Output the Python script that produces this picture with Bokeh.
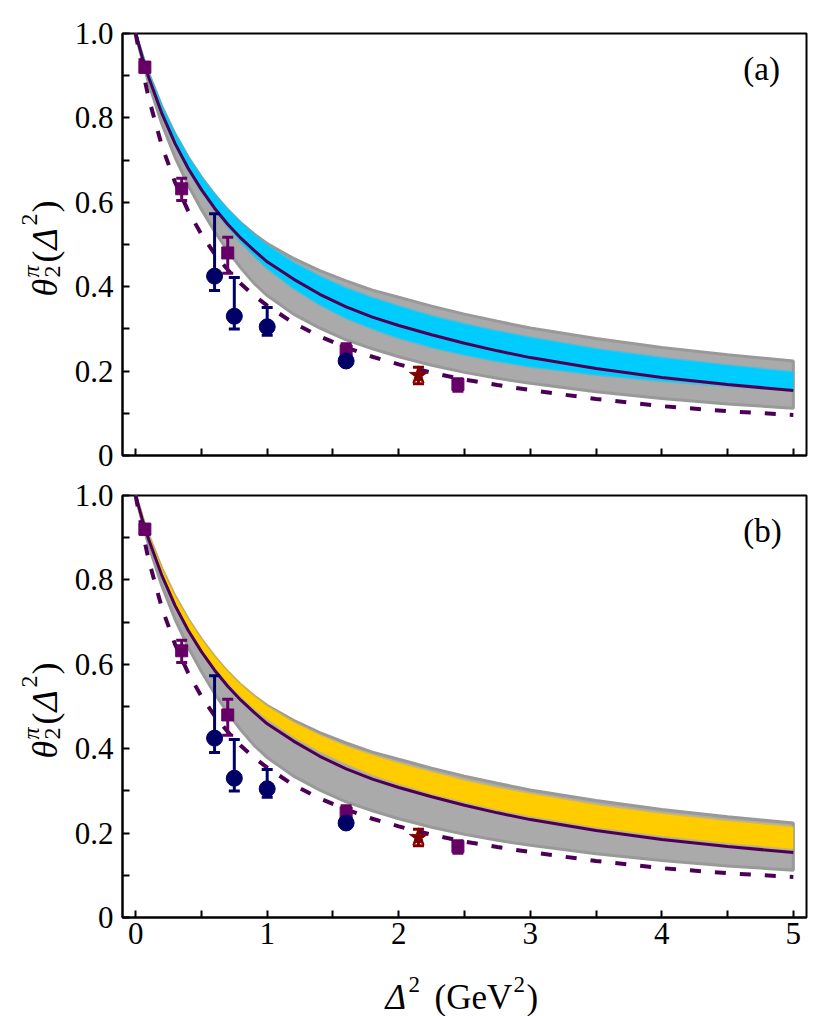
import math
from bokeh.plotting import figure
from bokeh.layouts import column, row
from bokeh.models import FixedTicker, Range1d, Label
from bokeh.core.properties import value
from bokeh.embed import file_html
from bokeh.resources import INLINE

# ---------------- data ----------------
curve_x = [0, 0.05, 0.1, 0.2, 0.3, 0.4, 0.5, 0.6, 0.7, 0.8, 0.9, 1.0, 1.2, 1.4, 1.6, 1.8, 2.0,
           2.25, 2.5, 2.75, 3.0, 3.5, 4.0, 4.5, 5.0]
solid_y = [1.0, 0.944, 0.895, 0.810, 0.739, 0.680, 0.630, 0.586, 0.548, 0.515, 0.486, 0.459, 0.418,
           0.382, 0.352, 0.328, 0.308, 0.286, 0.266, 0.248, 0.232, 0.206, 0.185, 0.168, 0.154]
dashed_y = [1.0, 0.917, 0.846, 0.733, 0.647, 0.579, 0.524, 0.478, 0.440, 0.407, 0.379, 0.355, 0.314,
            0.282, 0.256, 0.234, 0.216, 0.196, 0.180, 0.167, 0.155, 0.134, 0.117, 0.105, 0.096]

gray_lo = [1.0, 0.937, 0.881, 0.785, 0.706, 0.640, 0.583, 0.531, 0.485, 0.444, 0.408, 0.379, 0.335,
           0.302, 0.274, 0.253, 0.234, 0.214, 0.197, 0.183, 0.171, 0.151, 0.135, 0.122, 0.112]
gray_hi = [1.0, 0.949, 0.904, 0.826, 0.761, 0.706, 0.659, 0.618, 0.582, 0.551, 0.525, 0.5025, 0.467,
           0.438, 0.414, 0.392, 0.375, 0.354, 0.335, 0.318, 0.302, 0.277, 0.256, 0.239, 0.224]

cyan_lo = [1.0, 0.944, 0.894, 0.808, 0.737, 0.677, 0.627, 0.583, 0.543, 0.506, 0.474, 0.444, 0.397,
           0.358, 0.326, 0.301, 0.279, 0.257, 0.239, 0.224, 0.211, 0.192, 0.177, 0.165, 0.155]
cyan_hi = [1.0, 0.949, 0.904, 0.826, 0.761, 0.706, 0.659, 0.618, 0.582, 0.551, 0.522, 0.4975, 0.457,
           0.424, 0.396, 0.373, 0.353, 0.330, 0.311, 0.294, 0.279, 0.252, 0.231, 0.213, 0.197]

gold_lo = [1.0, 0.946, 0.897, 0.813, 0.744, 0.685, 0.635, 0.593, 0.556, 0.524, 0.496, 0.471, 0.429,
           0.394, 0.365, 0.339, 0.317, 0.294, 0.274, 0.256, 0.2405, 0.2145, 0.194, 0.177, 0.163]
gold_hi = [1.0, 0.949, 0.904, 0.826, 0.761, 0.706, 0.659, 0.618, 0.582, 0.551, 0.524, 0.500, 0.462,
           0.431, 0.405, 0.384, 0.365, 0.344, 0.324, 0.307, 0.2925, 0.266, 0.245, 0.228, 0.214]

sq_x = [0.07, 0.35, 0.70, 1.60, 2.45]
sq_y = [0.92, 0.632, 0.48, 0.248, 0.168]
sq_lo = [0.908, 0.604, 0.432, 0.235, 0.152]
sq_hi = [0.932, 0.657, 0.517, 0.265, 0.182]

circ_x = [0.60, 0.75, 1.00, 1.60]
circ_y = [0.425, 0.33, 0.305, 0.224]
circ_lo = [0.391, 0.30, 0.285, 0.215]
circ_hi = [0.573, 0.422, 0.351, 0.235]

star_x = [2.15]
star_y = [0.19]
star_lo = [0.17]
star_hi = [0.209]

x_major = [0, 1, 2, 3, 4, 5]
x_minor = [0.5, 1.5, 2.5, 3.5, 4.5]
y_major = [0, 0.2, 0.4, 0.6, 0.8, 1.0]
y_minor = [0.1, 0.3, 0.5, 0.7, 0.9]
y_labels = {0: "0", 0.2: "0.2", 0.4: "0.4", 0.6: "0.6", 0.8: "0.8", 1: "1.0"}

SERIF = "Liberation Serif"
LINE_C = "#4b0055"
SQ_C = "#660066"
CIRC_C = "#000066"
STAR_C = "#800000"
GRAY_F = "#aaaaaa"
GRAY_E = "#999999"

STRIP = 66  # width of the strip that carries the rotated y titles


def make_fig(height, top, bottom, show_x, band_lo, band_hi, band_color, tag):
    p = figure(width=826 - STRIP, height=height, x_range=Range1d(-0.1, 5.1), y_range=Range1d(0, 1.0),
               output_backend="svg", toolbar_location=None,
               min_border_left=122 - STRIP, min_border_right=20, min_border_top=top,
               min_border_bottom=bottom)
    p.xgrid.visible = False
    p.ygrid.visible = False
    p.background_fill_color = "white"
    p.border_fill_color = "white"
    p.outline_line_color = "black"
    p.outline_line_width = 2
    p.outline_line_alpha = 1.0
    for ax in (p.xaxis[0], p.yaxis[0]):
        ax.axis_line_width = 2
        ax.axis_line_color = "black"
        ax.major_tick_line_width = 2
        ax.minor_tick_line_width = 2
        ax.major_tick_line_color = "black"
        ax.minor_tick_line_color = "black"
        ax.major_tick_in = 7
        ax.major_tick_out = 0
        ax.minor_tick_in = 7
        ax.minor_tick_out = 0
        ax.major_label_text_font = SERIF
        ax.major_label_text_font_size = "31px"
        ax.major_label_text_color = "black"
    p.xaxis.ticker = FixedTicker(ticks=x_major, minor_ticks=x_minor)
    p.yaxis.ticker = FixedTicker(ticks=y_major, minor_ticks=y_minor)
    p.yaxis.major_label_overrides = y_labels
    p.yaxis.major_label_standoff = 9
    p.xaxis.major_label_standoff = 5
    if not show_x:
        p.xaxis.major_label_overrides = {t: "" for t in x_major}

    # gray band (outer)
    px = curve_x + curve_x[::-1]
    py = gray_hi + gray_lo[::-1]
    p.patch(px, py, fill_color=GRAY_F, line_color=GRAY_E, line_width=3)
    # coloured band
    p.varea(x=curve_x, y1=band_lo, y2=band_hi, fill_color=band_color)
    p.line(curve_x, band_lo, line_color=band_color, line_width=3, line_alpha=0.45)
    p.line(curve_x, band_hi, line_color=band_color, line_width=3, line_alpha=0.45)

    # curves
    p.line(curve_x, solid_y, line_color=LINE_C, line_width=3)
    p.line(curve_x, dashed_y, line_color=LINE_C, line_width=4, line_dash="11 14")

    # data points with error bars
    for xs, ys, lo, hi, col, mk, sz in (
        (sq_x, sq_y, sq_lo, sq_hi, SQ_C, "square", 12),
        (circ_x, circ_y, circ_lo, circ_hi, CIRC_C, "circle", 16),
        (star_x, star_y, star_lo, star_hi, STAR_C, "star", 19),
    ):
        p.segment(x0=xs, y0=lo, x1=xs, y1=hi, line_color=col, line_width=3)
        p.scatter(xs, lo, marker="dash", size=11, line_color=col, line_width=3)
        p.scatter(xs, hi, marker="dash", size=11, line_color=col, line_width=3)
        p.scatter(xs, ys, marker=mk, size=sz, fill_color=col, line_color=col)

    # panel tag
    p.add_layout(Label(x=4.62, y=0.915, text=tag, text_font=SERIF, text_font_size="33px",
                       text_baseline="middle", text_color="black"))
    return p


P2_H = 484
p1 = make_fig(475, 33, 20, False, cyan_lo, cyan_hi, "#00ccff", "(a)")
p2 = make_fig(P2_H, 20, P2_H - 20 - 422, True, gold_lo, gold_hi, "#ffcc00", "(b)")


def blank(width, height, xr, yr):
    f = figure(width=width, height=height, x_range=xr, y_range=yr, output_backend="svg",
               toolbar_location=None, x_axis_location=None, y_axis_location=None,
               min_border_left=0, min_border_right=0, min_border_top=0, min_border_bottom=0)
    f.xgrid.visible = False
    f.ygrid.visible = False
    f.outline_line_color = None
    f.background_fill_color = "white"
    f.border_fill_color = "white"
    return f


# left strip holding the two rotated y-axis titles (page pixel coordinates)
left = blank(STRIP, 1016, Range1d(0, STRIP), Range1d(0, 1016))
ylab_pieces = [("θ", 36, "italic", 0, 0), ("π", 24, "italic", 19, 14), ("2", 24, "normal", 19, -8),
               ("(", 36, "normal", 34, 0), ("Δ", 36, "italic", 47, 0), ("2", 24, "normal", 71, 15),
               (")", 36, "normal", 84, 0)]
for start in (296, 758):
    for txt, fs, st, u, v in ylab_pieces:
        left.text(x=[44 - v], y=[1016 - (start - u)], text=[txt], angle=math.pi / 2,
                  text_font=value(SERIF), text_font_size=value(f"{fs}px"),
                  text_font_style=value(st), text_align="left", text_baseline="alphabetic",
                  text_color="black")

# bottom strip holding the x-axis title; its frame is aligned with the panels' frames
# (page x 122..806), so the range is given in page pixels
XL_H = 1016 - 475 - P2_H
xlab = blank(826 - STRIP, XL_H, Range1d(122, 806), Range1d(0, XL_H))
xl = [("Δ", 35, "italic", 385, 997), ("2", 23, "normal", 408, 984), ("(GeV", 35, "normal", 434, 997),
      ("2", 23, "normal", 513, 984), (")", 35, "normal", 526, 997)]
for txt, fs, st, xp, yb in xl:
    xlab.text(x=[xp], y=[1016 - yb], text=[txt], text_font=value(SERIF),
              text_font_size=value(f"{fs}px"), text_font_style=value(st),
              text_align="left", text_baseline="alphabetic", text_color="black")

layout = row(left, column(p1, p2, xlab))
open("out.html", "w").write(file_html(layout, INLINE))
